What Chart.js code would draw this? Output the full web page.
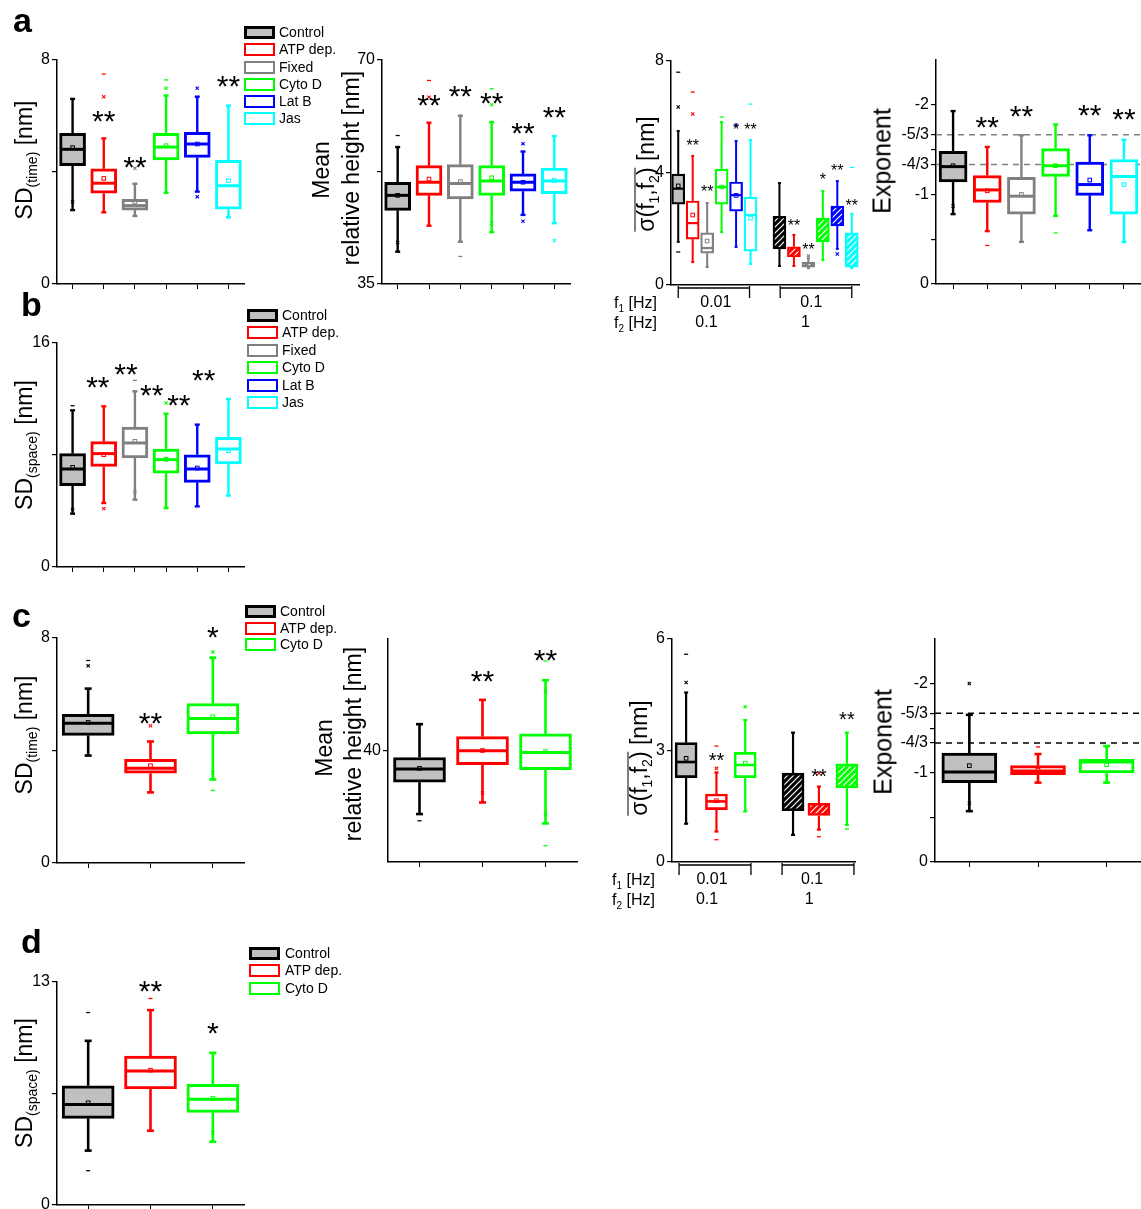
<!DOCTYPE html>
<html><head><meta charset="utf-8">
<script src="https://cdn.jsdelivr.net/npm/chart.js@4.4.1/dist/chart.umd.min.js"></script>
<style>
body{margin:0;background:#fff;width:1141px;height:1209px;position:relative;overflow:hidden;font-family:"Liberation Sans",Arial,sans-serif;}
canvas{position:absolute;z-index:1;}
.t{position:absolute;white-space:nowrap;color:#000;z-index:2;}
.rot{transform:translate(-50%,-50%) rotate(-90deg);line-height:23px;font-size:23px;}
.rot sub{font-size:14px;vertical-align:-5px;line-height:0;}
.ov{display:inline-block;border-top:1.5px solid #000;line-height:19px;padding-top:1px;}
.lbl{font-weight:bold;font-size:34px;line-height:34px;}
.sw{position:absolute;width:31px;height:13px;box-sizing:border-box;border:2.5px solid;z-index:2;}
.lg{position:absolute;font-size:14px;line-height:14px;white-space:nowrap;z-index:2;}
.fq{position:absolute;font-size:16px;line-height:16px;white-space:nowrap;z-index:2;}
.fq sub{font-size:10px;vertical-align:-4px;line-height:0;}
</style></head><body>
<script>
// ================= DATA =================
const groups6 = ['Control','ATP dep.','Fixed','Cyto D','Lat B','Jas'];
const groups3 = ['Control','ATP dep.','Cyto D'];
const freqRow1 = ['0.01','0.1'];
const freqRow2 = ['0.1','1'];
const expTickValues = [-2, -5/3, -1.5, -4/3, -1, -0.5, 0];
const expTickLabels = ['-2','-5/3','','-4/3','-1','','0'];
const expRefLines = [-5/3, -4/3];

// a1: SD(time)
const a1Lo   = [2.64, 2.56, 2.43, 3.26, 3.30, 2.38];
const a1Q1   = [4.23, 3.24, 2.64, 4.43, 4.52, 2.67];
const a1Med  = [4.81, 3.60, 2.80, 4.89, 5.00, 3.51];
const a1Q3   = [5.38, 4.11, 3.02, 5.38, 5.42, 4.42];
const a1Hi   = [6.61, 5.20, 3.58, 6.73, 6.69, 6.37];
const a1Mean = [4.87, 3.77, 2.93, 4.94, 5.00, 3.69];
const a1Pct  = [[2.94], [6.69], [4.13], [6.99], [6.99, 3.12], []];
const a1Ext  = [[], [7.5], [], [7.29], [], []];
const a1StarText = ['', '**', '**', '', '', '**'];
const a1StarY    = [null, 6.1, 4.46, null, null, 7.32];

// a2: mean relative height
const a2Lo   = [40.05, 44.1, 41.6, 43.1, 45.8, 44.5];
const a2Q1   = [46.5, 48.85, 48.3, 48.85, 49.5, 49.1];
const a2Med  = [48.85, 50.9, 50.7, 51.1, 50.9, 51.1];
const a2Q3   = [50.9, 53.5, 53.65, 53.5, 52.2, 53.1];
const a2Hi   = [56.4, 60.2, 61.3, 60.3, 55.7, 58.1];
const a2Mean = [48.85, 51.4, 51.0, 51.6, 50.9, 51.2];
const a2Pct  = [[41.5], [64.2], [], [63.0, 44.5], [56.9, 44.8], [41.8]];
const a2Ext  = [[58.2], [66.8], [39.3], [65.5], [], []];
const a2StarText = ['', '**', '**', '**', '**', '**'];
const a2StarY    = [null, 64.2, 65.5, 64.5, 59.8, 62.2];

// a3: sigma(f1,f2), band 0.01-0.1 Hz then 0.1-1 Hz
const a3Lo   = [1.54, 0.82, 0.64, 1.89, 1.36, 0.75,  0.68, 0.68, 0.60, 0.89, 1.29, 0.60];
const a3Q1   = [2.89, 1.64, 1.14, 2.89, 2.64, 1.21,  1.29, 1.00, 0.64, 1.54, 2.11, 0.64];
const a3Med  = [3.44, 2.21, 1.32, 3.50, 3.21, 2.50,  1.90, 1.15, 0.72, 1.95, 2.45, 1.20];
const a3Q3   = [3.96, 3.00, 1.86, 4.14, 3.68, 3.14,  2.45, 1.36, 0.82, 2.39, 2.82, 1.86];
const a3Hi   = [5.50, 4.61, 2.93, 5.82, 5.14, 5.18,  3.64, 1.79, 0.95, 3.36, 3.71, 2.54];
const a3Mean = [3.54, 2.50, 1.57, 3.50, 3.20, 2.39,  1.90, 1.15, 0.72, 1.95, 2.45, 1.20];
const a3Pct  = [[6.36], [6.11], [], [], [5.71], [],  [], [], [1.04], [], [1.11], []];
const a3Ext  = [[7.6, 1.18], [6.89], [], [6.0], [], [6.46],  [], [], [], [], [], [4.2]];
const a3StarText = ['', '**', '**', '', '*', '**',  '', '**', '**', '*', '**', '**'];
const a3StarY    = [null, 5.1, 3.46, null, 5.68, 5.68,  null, 2.25, 1.39, 3.89, 4.21, 2.96];

// a4: exponent
const a4Lo   = [-0.78, -0.59, -0.47, -0.76, -0.60, -0.47];
const a4Q1   = [-1.14, -0.91, -0.78, -1.20, -0.99, -0.78];
const a4Med  = [-1.31, -1.05, -0.98, -1.32, -1.11, -1.20];
const a4Q3   = [-1.48, -1.21, -1.19, -1.51, -1.36, -1.39];
const a4Hi   = [-1.93, -1.53, -1.66, -1.78, -1.66, -1.61];
const a4Mean = [-1.32, -1.04, -1.00, -1.32, -1.16, -1.11];
const a4Pct  = [[-0.87], [], [], [], [], []];
const a4Ext  = [[], [-0.43], [], [-0.57], [], []];
const a4StarText = ['', '**', '**', '', '**', '**'];
const a4StarY    = [null, -1.83, -1.96, null, -1.97, -1.92];

// b: SD(space)
const bLo   = [3.81, 4.57, 4.81, 4.21, 4.33, 5.10];
const bQ1   = [5.81, 7.19, 7.79, 6.71, 6.05, 7.36];
const bMed  = [7.00, 8.10, 8.86, 7.67, 7.00, 8.43];
const bQ3   = [8.10, 8.95, 10.0, 8.43, 8.02, 9.26];
const bHi   = [11.19, 11.48, 12.55, 10.95, 10.17, 12.0];
const bMean = [7.12, 8.02, 8.98, 7.70, 7.07, 8.31];
const bPct  = [[4.1], [4.17], [5.4], [11.71], [], []];
const bExt  = [[11.52], [], [13.33], [], [], []];
const bStarText = ['**', '**', '**', '**', '**'];
const bStarX    = [1.81, 2.71, 3.54, 4.41, 5.21];
const bStarY    = [13.36, 14.29, 12.79, 12.07, 13.86];

// c1: SD(time)
const c1Lo   = [3.82, 2.51, 2.97];
const c1Q1   = [4.54, 3.19, 4.59];
const c1Med  = [4.97, 3.37, 5.14];
const c1Q3   = [5.29, 3.69, 5.67];
const c1Hi   = [6.20, 4.32, 7.30];
const c1Mean = [5.00, 3.46, 5.20];
const c1Pct  = [[7.01], [4.88], [7.5, 3.21]];
const c1Ext  = [[7.2], [], [2.58]];
const c1StarText = ['', '**', '*'];
const c1StarY    = [null, 5.23, 8.29];

// c2: mean relative height
const c2Lo   = [34.3, 35.34, 33.46];
const c2Q1   = [37.16, 38.72, 38.27];
const c2Med  = [38.33, 39.97, 39.82];
const c2Q3   = [39.37, 41.25, 41.49];
const c2Hi   = [42.36, 44.54, 46.3];
const c2Mean = [38.4, 40.0, 39.9];
const c2Pct  = [[], [36.2], [45.34, 34.3]];
const c2Ext  = [[33.7], [], [48.03, 31.46]];
const c2StarText = ['', '**', '**'];
const c2StarY    = [null, 46.86, 48.74];

// c3: sigma(f1,f2)
const c3Lo   = [1.03, 0.82, 1.36,  0.73, 0.87, 1.00];
const c3Q1   = [2.27, 1.41, 2.27,  1.38, 1.25, 1.99];
const c3Med  = [2.69, 1.63, 2.61,  1.90, 1.41, 2.30];
const c3Q3   = [3.21, 1.83, 2.95,  2.39, 1.58, 2.64];
const c3Hi   = [4.56, 2.41, 3.82,  3.48, 2.03, 3.48];
const c3Mean = [2.79, 1.65, 2.66,  1.90, 1.41, 2.30];
const c3Pct  = [[4.83], [2.52], [4.18],  [], [2.39], []];
const c3Ext  = [[5.59], [3.12, 0.6], [],  [], [0.68], [0.89]];
const c3StarText = ['', '**', '',  '', '**', '**'];
const c3StarY    = [null, 2.88, null,  null, 2.45, 3.98];

// c4: exponent
const c4Lo   = [-0.57, -0.89, -0.89];
const c4Q1   = [-0.89, -0.98, -1.00];
const c4Med  = [-1.01, -1.02, -1.12];
const c4Q3   = [-1.22, -1.08, -1.15];
const c4Hi   = [-1.65, -1.21, -1.30];
const c4Mean = [-1.08, -1.03, -1.09];
const c4Pct  = [[-2.0, -0.66], [], []];
const c4Ext  = [[], [-1.29], []];

// d: SD(space)
const dLo   = [3.17, 4.33, 3.69];
const dQ1   = [5.05, 6.76, 5.40];
const dMed  = [5.86, 7.81, 6.16];
const dQ3   = [6.95, 8.68, 7.03];
const dHi   = [9.57, 11.36, 8.87];
const dMean = [5.96, 7.86, 6.21];
const dPct  = [[], [], [4.21]];
const dExt  = [[11.22, 2.0], [12.04], []];
const dStarText = ['', '**', '*'];
const dStarY    = [null, 12.89, 10.44];

// ================= STYLE / RENDER =================
const FONT = '"Liberation Sans", Arial, sans-serif';
const C6 = ['#000000','#ff0000','#808080','#00ff00','#0000ff','#00ffff'];
const C3 = ['#000000','#ff0000','#00ff00'];
const CTRL_FILL = '#c0c0c0';

function hatch(color){
  const c=document.createElement('canvas'); c.width=6; c.height=6;
  const g=c.getContext('2d'); g.fillStyle=color; g.fillRect(0,0,6,6);
  g.strokeStyle='#ffffff'; g.lineWidth=1.2; g.beginPath();
  g.moveTo(0,6); g.lineTo(6,0); g.moveTo(-1,1); g.lineTo(1,-1); g.moveTo(5,7); g.lineTo(7,5); g.stroke();
  return g.createPattern(c,'repeat');
}
function stats(lo,q1,med,q3,hi,mean,pct,ext){ return {lo,q1,med,q3,hi,mean,pct,ext}; }
function starList(pos, texts, ys){ const r=[]; texts.forEach((t,i)=>{ if(t && ys[i]!=null) r.push({x:pos[i], y:ys[i], t}); }); return r; }

function line(ctx,x1,y1,x2,y2){ ctx.beginPath(); ctx.moveTo(x1,y1); ctx.lineTo(x2,y2); ctx.stroke(); }

const boxPlugin = {
  id:'boxplot',
  beforeDatasetsDraw(chart, args, o){
    const ctx=chart.ctx, ca=chart.chartArea, xs=chart.scales.x, ys=chart.scales.y, s=o.s;
    ctx.save();
    (o.refLines||[]).forEach(v=>{ const y=ys.getPixelForValue(v); ctx.setLineDash([6,5]); ctx.strokeStyle=o.refColor; ctx.lineWidth=1.5; line(ctx,ca.left,y,ca.right,y); });
    ctx.setLineDash([]);
    o.pos.forEach((xv,i)=>{
      const x=xs.getPixelForValue(xv);
      ctx.strokeStyle=o.colors[i]; ctx.lineWidth=o.wLW;
      const yl=ys.getPixelForValue(s.lo[i]), y1=ys.getPixelForValue(s.q1[i]), y3=ys.getPixelForValue(s.q3[i]), yh=ys.getPixelForValue(s.hi[i]);
      line(ctx,x,yl,x,y1); line(ctx,x,y3,x,yh);
      line(ctx,x-o.cap/2,yl,x+o.cap/2,yl); line(ctx,x-o.cap/2,yh,x+o.cap/2,yh);
    });
    ctx.restore();
  },
  afterDatasetsDraw(chart, args, o){
    const ctx=chart.ctx, xs=chart.scales.x, ys=chart.scales.y, s=o.s;
    ctx.save();
    o.pos.forEach((xv,i)=>{
      const x=xs.getPixelForValue(xv), col=o.colors[i];
      if(!o.hatched[i]){
        ctx.strokeStyle=col; ctx.lineWidth=o.bLW;
        const ym=ys.getPixelForValue(s.med[i]);
        line(ctx,x-o.bw/2+1,ym,x+o.bw/2-1,ym);
        const ya=ys.getPixelForValue(s.mean[i]);
        ctx.lineWidth=1; ctx.strokeRect(x-1.8,ya-1.8,3.6,3.6);
      }
      ctx.strokeStyle=col; ctx.lineWidth=1.1;
      (s.pct[i]||[]).forEach(v=>{ const y=ys.getPixelForValue(v); line(ctx,x-1.6,y-1.6,x+1.6,y+1.6); line(ctx,x+1.6,y-1.6,x-1.6,y+1.6); });
      ctx.lineWidth=1.3;
      (s.ext[i]||[]).forEach(v=>{ const y=ys.getPixelForValue(v); line(ctx,x-2,y,x+2,y); });
    });
    ctx.fillStyle='#000'; ctx.font=o.starSize+'px '+FONT; ctx.textAlign='center'; ctx.textBaseline='alphabetic';
    (o.stars||[]).forEach(st=>{ ctx.fillText(st.t, xs.getPixelForValue(st.x), ys.getPixelForValue(st.y)+0.58*o.starSize); });
    ctx.restore();
  },
  afterDraw(chart, args, o){
    if(!o.brackets) return;
    const ctx=chart.ctx, ca=chart.chartArea, xs=chart.scales.x;
    ctx.save(); ctx.strokeStyle='#000'; ctx.lineWidth=1.3;
    const y0=ca.bottom+3;
    o.brackets.forEach(b=>{ const xa=xs.getPixelForValue(b[0]), xb=xs.getPixelForValue(b[1]);
      line(ctx,xa,y0,xb,y0); line(ctx,xa,y0-2,xa,y0+10); line(ctx,xb,y0-2,xb,y0+10); });
    ctx.fillStyle='#000'; ctx.font='16px '+FONT; ctx.textAlign='center'; ctx.textBaseline='middle';
    o.bracketLabels.forEach(l=>{ ctx.fillText(l.t, xs.getPixelForValue(l.x), ca.bottom + (l.row===1?18:38)); });
    ctx.restore();
  }
};

function panel(rect, o){
  const padL=Math.min(60, rect.x), padT=30, padR=o.padR??8, padB=o.padB??16;
  const W=rect.w+padL+padR, H=rect.h+padT+padB;
  const cv=document.createElement('canvas');
  cv.width=W; cv.height=H; cv.style.left=(rect.x-padL)+'px'; cv.style.top=(rect.y-padT)+'px';
  cv.style.width=W+'px'; cv.style.height=H+'px';
  document.body.appendChild(cv);
  const fills=o.colors.map((c,i)=> o.hatched[i] ? hatch(c) : (i===0 && o.ctrlFill ? CTRL_FILL : '#ffffff'));
  new Chart(cv.getContext('2d'), {
    type:'bar',
    data:{ labels:o.names, datasets:[{
      data:o.pos.map((x,i)=>({x, y:[o.s.q1[i], o.s.q3[i]]})),
      backgroundColor:fills, borderColor:o.colors, borderWidth:o.bLW, borderSkipped:false,
      barThickness:o.bw, clip:false
    }]},
    options:{
      responsive:false, animation:false, events:[], devicePixelRatio:1,
      layout:{padding:{left:0,top:padT,right:padR,bottom:0}},
      plugins:{legend:{display:false}, tooltip:{enabled:false}, boxplot:o},
      scales:{
        x:{type:'linear', min:o.xMin, max:o.xMax, offset:false,
           afterBuildTicks(sc){ sc.ticks=(o.xTicks?o.pos:[]).map(v=>({value:v})); },
           afterFit(sc){ sc.height=padB; },
           ticks:{display:false},
           grid:{display:!!o.xTicks, offset:false, drawOnChartArea:false, drawTicks:true, tickLength:5, color:'#000', lineWidth:1},
           border:{display:true, color:'#000', width:1.5}},
        y:{type:'linear', min:o.yMin, max:o.yMax, reverse:!!o.reverse, beginAtZero:false,
           afterBuildTicks(sc){ sc.ticks=o.yTicks.map(v=>({value:v})); },
           afterFit(sc){ sc.width=padL; },
           ticks:{display:true, color:'#000', font:{size:16, family:FONT}, padding:2,
                  callback:(v,idx)=>o.yLabels[idx]},
           grid:{display:true, drawOnChartArea:false, drawTicks:true, tickLength:5, color:'#000', lineWidth:1.2},
           border:{display:true, color:'#000', width:1.5}}
      }
    },
    plugins:[boxPlugin]
  });
}

const pos6=[1,2,3,4,5,6], pos3=[1,2,3];
const noHatch6=[0,0,0,0,0,0].map(Boolean), noHatch3=[0,0,0].map(Boolean);

// ---- a1
panel({x:57,y:60,w:187,h:224},{names:groups6,pos:pos6,xMin:0.5,xMax:6.5,xTicks:true,yMin:0,yMax:8,yTicks:[0,4,8],yLabels:['0','','8'],
  s:stats(a1Lo,a1Q1,a1Med,a1Q3,a1Hi,a1Mean,a1Pct,a1Ext),colors:C6,hatched:noHatch6,ctrlFill:true,bw:26,bLW:3,wLW:2.4,cap:5,
  stars:starList(pos6,a1StarText,a1StarY),starSize:30});
// ---- a2
panel({x:382,y:60,w:188,h:224},{names:groups6,pos:pos6,xMin:0.5,xMax:6.5,xTicks:true,yMin:35,yMax:70,yTicks:[35,52.5,70],yLabels:['35','','70'],
  s:stats(a2Lo,a2Q1,a2Med,a2Q3,a2Hi,a2Mean,a2Pct,a2Ext),colors:C6,hatched:noHatch6,ctrlFill:true,bw:26,bLW:3,wLW:2.4,cap:5,
  stars:starList(pos6,a2StarText,a2StarY),starSize:30});
// ---- a3
const posA3=[1,2,3,4,5,6,8,9,10,11,12,13];
panel({x:671,y:61,w:188,h:224},{names:groups6.concat(groups6),pos:posA3,xMin:0.5,xMax:13.5,xTicks:false,yMin:0,yMax:8,yTicks:[0,4,8],yLabels:['0','4','8'],
  s:stats(a3Lo,a3Q1,a3Med,a3Q3,a3Hi,a3Mean,a3Pct,a3Ext),colors:C6.concat(C6),hatched:[0,0,0,0,0,0,1,1,1,1,1,1].map(Boolean),ctrlFill:true,bw:13,bLW:2.2,wLW:2,cap:3,
  stars:starList(posA3,a3StarText,a3StarY),starSize:16,padB:50,
  brackets:[[1,5.93],[8.05,13]],
  bracketLabels:[{x:3.6,row:1,t:freqRow1[0]},{x:10.2,row:1,t:freqRow1[1]},{x:2.95,row:2,t:freqRow2[0]},{x:9.8,row:2,t:freqRow2[1]}]});
// ---- a4
panel({x:936,y:60,w:205,h:224},{names:groups6,pos:pos6,xMin:0.5,xMax:6.5,xTicks:true,yMin:-2.5,yMax:0,reverse:true,yTicks:expTickValues,yLabels:expTickLabels,
  s:stats(a4Lo,a4Q1,a4Med,a4Q3,a4Hi,a4Mean,a4Pct,a4Ext),colors:C6,hatched:noHatch6,ctrlFill:true,bw:28,bLW:3,wLW:2.4,cap:5,
  stars:starList(pos6,a4StarText,a4StarY),starSize:30,refLines:expRefLines,refColor:'#808080',padR:0});
// ---- b
panel({x:57,y:343,w:187,h:224},{names:groups6,pos:pos6,xMin:0.5,xMax:6.5,xTicks:true,yMin:0,yMax:16,yTicks:[0,8,16],yLabels:['0','','16'],
  s:stats(bLo,bQ1,bMed,bQ3,bHi,bMean,bPct,bExt),colors:C6,hatched:noHatch6,ctrlFill:true,bw:26,bLW:3,wLW:2.4,cap:5,
  stars:bStarText.map((t,i)=>({x:bStarX[i],y:bStarY[i],t})),starSize:30});
// ---- c1
panel({x:57,y:638,w:187,h:225},{names:groups3,pos:pos3,xMin:0.5,xMax:3.5,xTicks:true,yMin:0,yMax:8,yTicks:[0,4,8],yLabels:['0','','8'],
  s:stats(c1Lo,c1Q1,c1Med,c1Q3,c1Hi,c1Mean,c1Pct,c1Ext),colors:C3,hatched:noHatch3,ctrlFill:true,bw:52,bLW:3,wLW:2.6,cap:7,
  stars:starList(pos3,c1StarText,c1StarY),starSize:30});
// ---- c2
panel({x:388,y:639,w:189,h:223},{names:groups3,pos:pos3,xMin:0.5,xMax:3.5,xTicks:true,yMin:30,yMax:50,yTicks:[40],yLabels:['40'],
  s:stats(c2Lo,c2Q1,c2Med,c2Q3,c2Hi,c2Mean,c2Pct,c2Ext),colors:C3,hatched:noHatch3,ctrlFill:true,bw:52,bLW:3,wLW:2.6,cap:7,
  stars:starList(pos3,c2StarText,c2StarY),starSize:30});
// ---- c3
const posC3=[1.04,2.2,3.3,5.13,6.12,7.19];
panel({x:672,y:639,w:183,h:223},{names:groups3.concat(groups3),pos:posC3,xMin:0.5,xMax:7.5,xTicks:false,yMin:0,yMax:6,yTicks:[0,3,6],yLabels:['0','3','6'],
  s:stats(c3Lo,c3Q1,c3Med,c3Q3,c3Hi,c3Mean,c3Pct,c3Ext),colors:C3.concat(C3),hatched:[0,0,0,1,1,1].map(Boolean),ctrlFill:true,bw:22,bLW:2.6,wLW:2.2,cap:4,
  stars:starList(posC3,c3StarText,c3StarY),starSize:20,padB:50,padR:12,
  brackets:[[0.77,3.52],[4.71,7.46]],
  bracketLabels:[{x:2.03,row:1,t:freqRow1[0]},{x:5.86,row:1,t:freqRow1[1]},{x:1.84,row:2,t:freqRow2[0]},{x:5.75,row:2,t:freqRow2[1]}]});
// ---- c4
panel({x:935,y:639,w:206,h:223},{names:groups3,pos:pos3,xMin:0.5,xMax:3.5,xTicks:true,yMin:-2.5,yMax:0,reverse:true,yTicks:expTickValues,yLabels:expTickLabels,
  s:stats(c4Lo,c4Q1,c4Med,c4Q3,c4Hi,c4Mean,c4Pct,c4Ext),colors:C3,hatched:noHatch3,ctrlFill:true,bw:55,bLW:3,wLW:2.6,cap:7,
  stars:[],starSize:30,refLines:expRefLines,refColor:'#000000',padR:0});
// ---- d
panel({x:57,y:982,w:187,h:223},{names:groups3,pos:pos3,xMin:0.5,xMax:3.5,xTicks:true,yMin:0,yMax:13,yTicks:[0,6.5,13],yLabels:['0','','13'],
  s:stats(dLo,dQ1,dMed,dQ3,dHi,dMean,dPct,dExt),colors:C3,hatched:noHatch3,ctrlFill:true,bw:52,bLW:3,wLW:2.6,cap:7,
  stars:starList(pos3,dStarText,dStarY),starSize:30,padB:16});

// ---------- HTML text: titles, legends, labels ----------
function addDiv(cls, html, style){ const d=document.createElement('div'); d.className=cls; d.innerHTML=html; d.setAttribute('style',style); document.body.appendChild(d); return d; }
function letter(ch, x, baseline){ addDiv('t lbl', ch, `left:${x}px;top:${baseline-0.8465*34}px`); }
function rotTitle(html, cx, cy, size){ addDiv('t rot', html, `left:${cx}px;top:${cy}px;` + (size?`font-size:${size}px;`:'')); }
function legend(names, x, yc, textX){
  names.forEach((n,i)=>{
    const col = (names.length===6?C6:C3)[i];
    const sw=document.createElement('div'); sw.className='sw';
    sw.style.left=x+'px'; sw.style.top=(yc[i]-6.5)+'px'; sw.style.borderColor=col;
    sw.style.background = i===0 ? CTRL_FILL : '#fff'; if(i===0) sw.style.borderWidth='3px';
    document.body.appendChild(sw);
    addDiv('lg', n, `left:${textX}px;top:${yc[i]-7.5}px`);
  });
}

letter('a', 13, 32); letter('b', 21, 316); letter('c', 12, 627); letter('d', 21, 953);

const sdTime = 'SD<sub>(time)</sub> [nm]';
const sdSpace = 'SD<sub>(space)</sub> [nm]';
const sigT = '<span class="ov">σ(f<sub>1</sub>,f<sub>2</sub>)</span> [nm]';
rotTitle(sdTime, 24, 160);
rotTitle('Mean', 321, 170); rotTitle('relative height [nm]', 351, 168);
rotTitle(sigT, 646, 174);
rotTitle('Exponent', 882, 161, 25);
rotTitle(sdSpace, 24, 445);
rotTitle(sdTime, 24, 735);
rotTitle('Mean', 324, 748); rotTitle('relative height [nm]', 353, 744);
rotTitle(sigT, 639, 758);
rotTitle('Exponent', 883, 742, 25);
rotTitle(sdSpace, 24, 1083);

legend(groups6, 244, [32,49,67,84,101,118], 279);
legend(groups6, 247, [315,332,350,367,385,402], 282);
legend(groups3, 245, [611,628,644], 280);
legend(groups3, 249, [953,970,988], 285);

function fq(x, y, n){ addDiv('fq', `f<sub>${n}</sub> [Hz]`, `left:${x}px;top:${y-8}px`); }
fq(614, 303, 1); fq(614, 323, 2);
fq(612, 880, 1); fq(612, 900, 2);
</script>
</body></html>
